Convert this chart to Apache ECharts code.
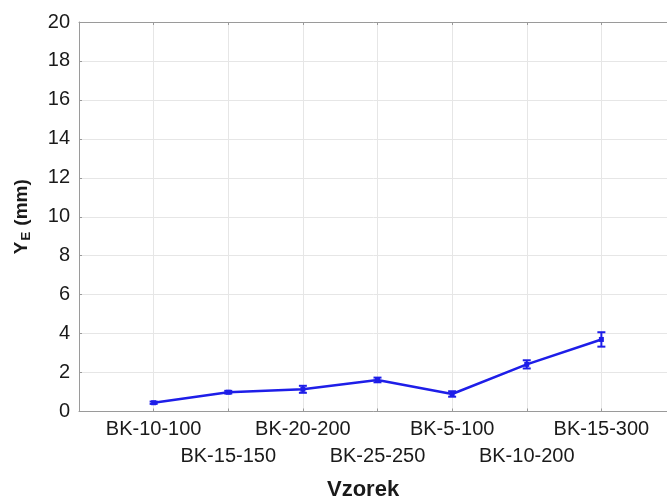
<!DOCTYPE html>
<html>
<head>
<meta charset="utf-8">
<script src="https://cdn.jsdelivr.net/npm/echarts@6/dist/echarts.min.js"></script>
<style>
  html, body { margin: 0; padding: 0; background: #fff; }
  #chart { width: 667px; height: 500px; }
</style>
</head>
<body>
<div id="chart"></div>
<script>
// Sample names along the x axis (positions 1..7)
const categories = ['BK-10-100', 'BK-15-150', 'BK-20-200', 'BK-25-250', 'BK-5-100', 'BK-10-200', 'BK-15-300'];
// Mean Y_E values (mm)
const meanValues = [0.45, 0.99, 1.14, 1.62, 0.90, 2.42, 3.70];
// Half-width of the error bars (mm)
const errorValues = [0.06, 0.07, 0.18, 0.12, 0.14, 0.21, 0.37];
// Y axis range and step
const yMin = 0, yMax = 20, yStep = 2;
// X range: one empty slot either side of the samples; the right edge falls off the page
const xMin = 0, xMax = 8;

const lineColor = '#1e1ee8';
const gridColor = '#e6e6e6';
const axisColor = '#9a9a9a';
const textColor = '#1a1a1a';
const font = 'Liberation Sans, Arial, sans-serif';

const points = meanValues.map((v, i) => [i + 1, v]);
const errData = meanValues.map((v, i) => [i + 1, v - errorValues[i], v + errorValues[i]]);

const chart = echarts.init(document.getElementById('chart'));
chart.setOption({
  animation: false,
  backgroundColor: '#fff',
  grid: { left: 79, top: 22, width: 597, height: 389.5, containLabel: false, outerBoundsMode: 'none' },
  xAxis: [{
    type: 'value', min: xMin, max: xMax, interval: 1,
    axisLine: { show: true, lineStyle: { color: axisColor, width: 1 } },
    axisTick: { show: true, inside: true, length: 3, lineStyle: { color: axisColor } },
    splitLine: { show: true, lineStyle: { color: gridColor, width: 1 } },
    axisLabel: {
      margin: 4,
      color: textColor, fontFamily: font, fontSize: 20, lineHeight: 27,
      formatter: function (v) {
        const i = Math.round(v) - 1;
        if (i < 0 || i >= categories.length) return '';
        return (i % 2 === 0) ? categories[i] : '\n' + categories[i];
      }
    }
  }, {
    type: 'value', position: 'top', min: xMin, max: xMax, interval: 1,
    axisLine: { show: true, lineStyle: { color: axisColor, width: 1 } },
    axisTick: { show: true, inside: true, length: 3, lineStyle: { color: axisColor } },
    axisLabel: { show: false }, splitLine: { show: false }
  }],
  yAxis: {
    type: 'value', min: yMin, max: yMax, interval: yStep,
    axisLine: { show: true, lineStyle: { color: axisColor, width: 1 } },
    axisTick: { show: true, inside: true, length: 3, lineStyle: { color: axisColor } },
    splitLine: { show: true, lineStyle: { color: gridColor, width: 1 } },
    axisLabel: { margin: 9, color: textColor, fontFamily: font, fontSize: 20 },
    name: '{m|Y}{s|E}{m| (mm)}',
    nameLocation: 'middle', nameRotate: 90, nameGap: 46,
    nameTextStyle: {
      rich: {
        m: { fontFamily: font, fontWeight: 'bold', fontSize: 19, color: textColor },
        s: { fontFamily: font, fontWeight: 'bold', fontSize: 13, color: textColor, padding: [10, 1, 0, 1] }
      }
    }
  },
  graphic: [{
    type: 'text', left: 327, top: 479,
    style: { text: 'Vzorek', fontFamily: font, fontWeight: 'bold', fontSize: 22, fill: textColor }
  }],
  series: [{
    type: 'line', data: points, xAxisIndex: 0,
    symbol: 'rect', symbolSize: 5,
    lineStyle: { color: lineColor, width: 2.5 },
    itemStyle: { color: lineColor },
    z: 3
  }, {
    type: 'custom', xAxisIndex: 0, data: errData, z: 4,
    renderItem: function (params, api) {
      const x = api.value(0);
      const lo = api.coord([x, api.value(1)]);
      const hi = api.coord([x, api.value(2)]);
      const cap = 4;
      const style = { stroke: lineColor, lineWidth: 2 };
      return {
        type: 'group',
        children: [
          { type: 'line', shape: { x1: lo[0], y1: lo[1], x2: hi[0], y2: hi[1] }, style: style },
          { type: 'line', shape: { x1: lo[0] - cap, y1: lo[1], x2: lo[0] + cap, y2: lo[1] }, style: style },
          { type: 'line', shape: { x1: hi[0] - cap, y1: hi[1], x2: hi[0] + cap, y2: hi[1] }, style: style }
        ]
      };
    }
  }]
});
</script>
</body>
</html>
